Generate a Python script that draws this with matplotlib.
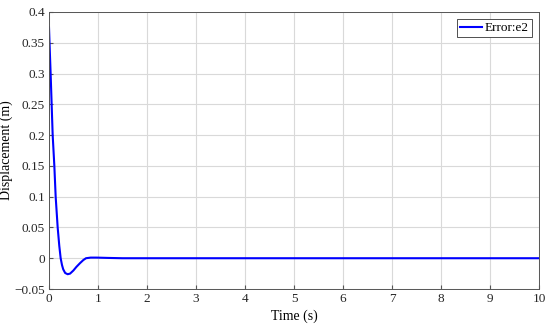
import numpy as np
import matplotlib.pyplot as plt

# Data
time = [0, 0.015, 0.034, 0.054, 0.075, 0.109, 0.136, 0.177, 0.21, 0.238, 0.265,
        0.29, 0.33, 0.381, 0.43, 0.497, 0.56, 0.633, 0.7, 0.755, 0.85, 0.97,
        1.2, 1.5, 2, 3, 4, 5, 6, 7, 8, 9, 10]
e2 = [0.375, 0.34, 0.298, 0.25, 0.2, 0.15, 0.1, 0.05, 0.02, 0.0, -0.011,
      -0.018, -0.024, -0.026, -0.025, -0.02, -0.014, -0.008, -0.003, 0.0, 0.001, 0.001,
      0.0005, 0.0, 0, 0, 0, 0, 0, 0, 0, 0, 0]

plt.rcParams['font.family'] = ['Liberation Serif', 'DejaVu Serif']
plt.rcParams['font.size'] = 9.5

fig = plt.figure(figsize=(5.5, 3.27), dpi=100)
ax = fig.add_axes([49/550, 1 - 289/327, 490/550, 277/327])

ax.plot(time, e2, color='#0000ff', lw=1.5, label='Error:e2')

ax.set_xlim(0, 10)
ax.set_ylim(-0.05, 0.4)
ax.set_xticks(np.arange(0, 11, 1))
ax.set_yticks(np.arange(-0.05, 0.401, 0.05))
ax.set_yticklabels(['\u22120.05', '0', '0.05', '0.1', '0.15', '0.2', '0.25', '0.3', '0.35', '0.4'])
ax.grid(True, color='#d9d9d9', lw=0.8)
ax.tick_params(direction='in', length=3, color='#555555', labelcolor='#262626', pad=3)
for s in ax.spines.values():
    s.set_color('#555555')
    s.set_linewidth(0.7)

ax.set_xlabel('Time (s)', fontsize=10, labelpad=3)
ax.set_ylabel('Displacement (m)', fontsize=10)
ax.yaxis.set_label_coords(-0.073, 0.5)

leg = ax.legend(loc='upper right', fancybox=False, framealpha=1, borderpad=0.25,
                handlelength=1.7, handletextpad=0.2, borderaxespad=0.5)
leg.get_frame().set_edgecolor('#333333')
leg.get_frame().set_linewidth(0.6)

fig.savefig('out.png', dpi=100)
